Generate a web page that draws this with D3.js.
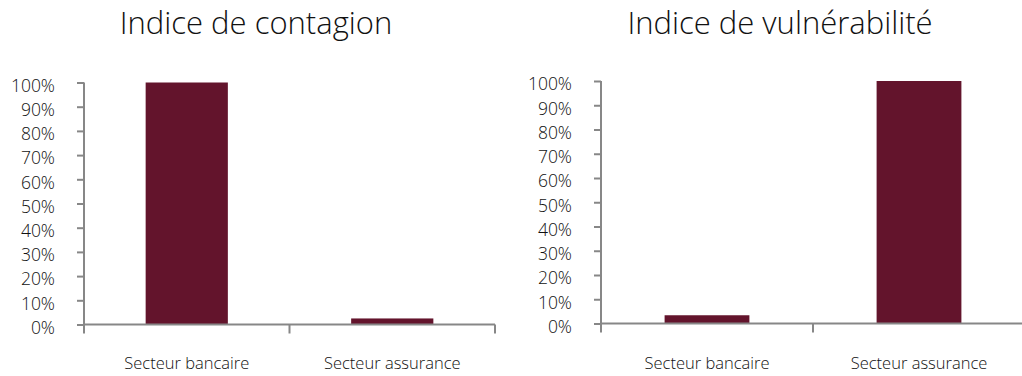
<!DOCTYPE html>
<html>
<head>
<meta charset="utf-8">
<script src="https://cdn.jsdelivr.net/npm/d3@7"></script>
<style>
  body { margin: 0; background: #fff; }
  svg text { font-family: "Open Sans", "Noto Sans", sans-serif; fill: #111; }
</style>
</head>
<body>
<script>
const categories = ["Secteur bancaire", "Secteur assurance"];
const contagionValues = [1.0, 0.025];
const vulnerabiliteValues = [0.034, 1.0];
const yTicks = [0, 0.1, 0.2, 0.3, 0.4, 0.5, 0.6, 0.7, 0.8, 0.9, 1.0];
const titles = ["Indice de contagion", "Indice de vulnérabilité"];

const width = 1022;
const height = 376;
const barColor = "#63142c";
const axisColor = "#878787";

const svg = d3.select("body")
  .append("svg")
  .attr("width", width)
  .attr("height", height);

// one panel: left position of axis, right end of x axis, y range
function drawPanel(title, values, left, right, top, bottom, titleX) {
  const g = svg.append("g");

  const x = d3.scaleBand()
    .domain(categories)
    .range([left, right])
    .paddingInner(0.6)
    .paddingOuter(0.3);

  const band = d3.scaleBand().domain(categories).range([left, right]);

  const y = d3.scaleLinear()
    .domain([0, 1])
    .range([bottom, top]);

  g.append("text")
    .attr("x", titleX)
    .attr("y", 34)
    .attr("text-anchor", "middle")
    .style("font-size", "31px")
    .style("font-weight", 300)
    .text(title);

  g.selectAll("rect")
    .data(values)
    .enter()
    .append("rect")
      .attr("x", (d, i) => x(categories[i]))
      .attr("y", d => y(d))
      .attr("width", x.bandwidth())
      .attr("height", d => y(0) - y(d))
      .attr("fill", barColor);

  // y axis
  const yAxis = d3.axisLeft(y)
    .tickValues(yTicks)
    .tickFormat(d3.format(".0%"))
    .tickSize(7)
    .tickPadding(22);
  const ya = g.append("g")
    .attr("transform", `translate(${left}, 0)`)
    .call(yAxis);
  ya.select(".domain").attr("d", `M0,${top}V${bottom}`);
  ya.selectAll("line, path").attr("stroke", axisColor).attr("stroke-width", 2);
  ya.selectAll("text")
    .style("font-size", "17.5px")
    .style("font-family", "\"Open Sans\", sans-serif")
    .style("font-weight", 300)
    .attr("dy", "0.5em")
    .attr("fill", "#111");

  // x axis line and category dividers
  g.append("line")
    .attr("x1", left).attr("x2", right)
    .attr("y1", bottom).attr("y2", bottom)
    .attr("stroke", axisColor).attr("stroke-width", 2);

  const dividers = [left].concat(categories.map(c => band(c) + band.bandwidth()));
  g.selectAll(".div")
    .data(dividers)
    .enter()
    .append("line")
      .attr("x1", d => d).attr("x2", d => d)
      .attr("y1", bottom).attr("y2", bottom + 9)
      .attr("stroke", axisColor).attr("stroke-width", 2);

  g.selectAll(".cat")
    .data(categories)
    .enter()
    .append("text")
      .attr("x", d => band(d) + band.bandwidth() / 2)
      .attr("y", 369)
      .attr("text-anchor", "middle")
      .style("font-size", "16.5px")
      .style("font-weight", 300)
      .text(d => d);
}

drawPanel(titles[0], contagionValues, 84, 495, 82.5, 324.5, 256);
drawPanel(titles[1], vulnerabiliteValues, 601, 1025, 81, 323.5, 780);
</script>
</body>
</html>
